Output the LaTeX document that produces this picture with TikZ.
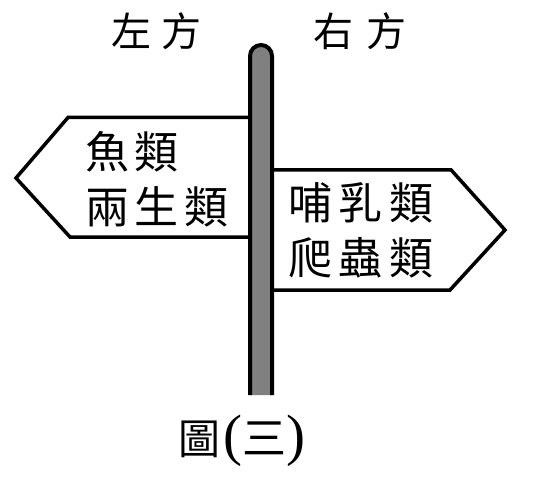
\documentclass[tikz,border=0pt]{standalone}
\usepackage{fontspec}
\setmainfont{Liberation Serif}
\newfontfamily\cjk{Noto Sans CJK TC}
\newfontfamily\serif{Liberation Serif}
\begin{document}
\begin{tikzpicture}[x=1pt,y=-1pt,
  signline/.style={draw=black,fill=white,line width=3.5pt,line join=miter},
  polefill/.style={fill=black!50},
  poleline/.style={draw=black,line width=4pt},
  cjktext/.style={inner sep=0pt,anchor=west,font=\cjk\fontsize{44}{44}\selectfont},
  toptext/.style={inner sep=0pt,anchor=west,font=\cjk\fontsize{40}{40}\selectfont}]
\useasboundingbox (0,0) rectangle (537,478);
% signs
\draw[signline] (255,117.5) -- (68,117.5) -- (16,178) -- (70,237) -- (255,237);
\draw[signline] (265,169.8) -- (451,169.8) -- (505,230) -- (450,290) -- (265,290);
% pole
\fill[polefill] (250,395) -- (250,56) arc[start angle=180,end angle=360,radius=11] -- (272,395) -- cycle;
\draw[poleline] (250,395) -- (250,56) arc[start angle=180,end angle=360,radius=11] -- (272,395);
\coordinate (pole) at (261,45);
% labels
\node[toptext] (lefttitle) at (111,31) {左\hspace{10pt}方};
\node[toptext] (righttitle) at (313,31) {右\hspace{13pt}方};
\node[cjktext] (l1) at (85,152) {魚\hspace{5pt}類};
\node[cjktext] (l2) at (85,206.5) {兩\hspace{5.5pt}生\hspace{5.5pt}類};
\node[cjktext] (r1) at (288,202.5) {哺\hspace{6.5pt}乳\hspace{6.5pt}類};
\node[cjktext] (r2) at (288,258) {爬\hspace{6.5pt}蟲\hspace{6.5pt}類};
\node[inner sep=0pt,anchor=base west] (caption) at (178,454)
  {{\cjk\fontsize{42}{42}\selectfont 圖}\hspace{3pt}{\serif\fontsize{57}{57}\selectfont(}{\cjk\fontsize{44}{44}\selectfont 三}{\serif\fontsize{57}{57}\selectfont)}};
\end{tikzpicture}
\end{document}
